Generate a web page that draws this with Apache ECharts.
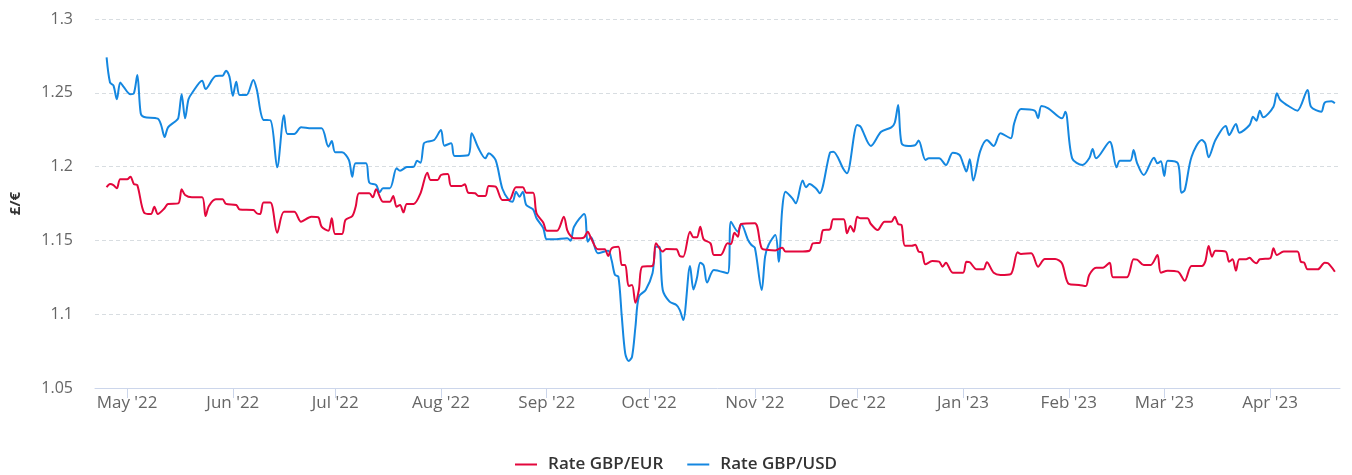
<!DOCTYPE html>
<html>
<head>
<meta charset="utf-8">
<title>GBP exchange rates</title>
<script src="https://cdn.jsdelivr.net/npm/echarts@6/dist/echarts.min.js"></script>
<style>
  html, body { margin: 0; padding: 0; background: #ffffff; }
  #chart { width: 1352px; height: 475px; }
</style>
</head>
<body>
<div id="chart"></div>
<script>
// Daily closing rates, as [days since 1 May 2022, rate]
const gbpEur = [
  [-6,1.186],[-5,1.1882],[-4,1.1875],[-3,1.1853],[-2,1.1914],[0,1.1914],[1,1.1932],[2,1.1882],[3,1.1875],
  [5,1.1688],[7,1.1679],[8,1.1728],[9,1.1679],[11,1.1718],[12,1.1747],[15,1.1751],[16,1.1846],[17,1.1808],
  [19,1.1792],[22,1.1792],[23,1.1665],[24,1.1733],[26,1.1778],[28,1.1778],[29,1.1747],[32,1.174],[33,1.171],
  [37,1.1706],[38,1.1684],[39,1.1679],[40,1.1756],[42,1.1756],[44,1.1552],[46,1.1694],[49,1.1694],[51,1.1627],
  [54,1.166],[56,1.1657],[57,1.1593],[59,1.1566],[60,1.165],[61,1.1543],[63,1.1543],[64,1.1638],[66,1.1665],
  [67,1.1728],[68,1.1819],[71,1.1819],[72,1.1792],[73,1.1846],[75,1.1762],[77,1.1762],[78,1.1801],[79,1.1728],
  [80,1.174],[81,1.169],[82,1.1747],[84,1.1747],[86,1.1819],[88,1.1959],[89,1.1909],[91,1.1909],[92,1.1943],
  [94,1.195],[95,1.1869],[98,1.1869],[99,1.188],[100,1.1823],[102,1.1819],[103,1.1801],[105,1.1801],[106,1.1869],
  [108,1.1864],[110,1.1774],[112,1.1774],[114,1.186],[116,1.186],[117,1.1823],[119,1.1823],[120,1.1684],
  [122,1.162],[123,1.1566],[126,1.1566],[128,1.166],[129,1.157],[130,1.153],[131,1.1514],[133,1.1514],
  [134,1.1521],[135,1.1559],[136,1.1514],[138,1.144],[140,1.144],[141,1.1394],[142,1.1446],[144,1.1457],
  [145,1.1333],[146,1.1333],[147,1.1191],[148,1.1198],[149,1.1078],[150,1.1164],[151,1.1322],[154,1.1327],
  [155,1.148],[157,1.1424],[158,1.1442],[161,1.144],[162,1.1394],[163,1.139],[165,1.1559],[166,1.1521],
  [167,1.1521],[168,1.1593],[169,1.1507],[171,1.148],[172,1.1401],[174,1.1401],[176,1.148],[177,1.1475],
  [178,1.1552],[179,1.1525],[180,1.1611],[184,1.1616],[186,1.1447],[188,1.1435],[190,1.1432],[192,1.1451],
  [193,1.1424],[197,1.1424],[200,1.143],[201,1.148],[203,1.1484],[204,1.157],[206,1.1575],[207,1.1643],
  [210,1.1643],[211,1.1548],[212,1.1598],[213,1.1559],[214,1.166],[215,1.165],[217,1.165],[218,1.1611],
  [220,1.157],[222,1.1627],[224,1.1627],[225,1.166],[226,1.1611],[227,1.1604],[228,1.1464],[230,1.1464],
  [231,1.147],[232,1.1424],[233,1.1418],[234,1.1338],[236,1.136],[238,1.1356],[239,1.1322],[240,1.1349],
  [242,1.1281],[245,1.1281],[246,1.1356],[247,1.1352],[249,1.1304],[251,1.1304],[252,1.1352],[254,1.1281],
  [256,1.1266],[259,1.1272],[261,1.1419],[262,1.1408],[265,1.1413],[267,1.1322],[269,1.1374],[272,1.1374],
  [274,1.1345],[276,1.1205],[279,1.1198],[281,1.1191],[282,1.1266],[284,1.1315],[286,1.1315],[288,1.1349],
  [289,1.125],[293,1.125],[295,1.1372],[296,1.137],[298,1.1333],[300,1.1333],[302,1.1401],[303,1.1281],
  [305,1.1295],[308,1.1288],[310,1.1227],[312,1.1327],[315,1.1327],[316,1.1356],[317,1.1462],[318,1.139],
  [319,1.143],[322,1.1424],[323,1.1356],[324,1.1372],[325,1.1295],[326,1.1372],[328,1.1372],[329,1.1383],
  [330,1.136],[331,1.1345],[332,1.1372],[335,1.1378],[336,1.1446],[337,1.1401],[339,1.1424],[343,1.1424],
  [344,1.1356],[345,1.135],[346,1.1304],[349,1.1304],[351,1.1349],[352,1.1345],[354,1.1288]
];

const gbpUsd = [
  [-6,1.274],[-5,1.257],[-4,1.255],[-3,1.2456],[-2,1.257],[-1,1.254],[1,1.249],[2,1.2497],[3,1.262],
  [4,1.236],[5,1.2336],[9,1.2325],[10,1.228],[11,1.22],[12,1.2266],[14,1.2304],[15,1.2327],[16,1.249],
  [17,1.2327],[18,1.2456],[19,1.2497],[22,1.2582],[23,1.2526],[26,1.2614],[28,1.2616],[29,1.265],[30,1.261],
  [31,1.248],[32,1.2575],[33,1.2485],[35,1.2485],[37,1.2587],[38,1.2524],[40,1.2316],[42,1.2314],[44,1.1995],
  [46,1.2348],[47,1.2221],[49,1.2221],[51,1.2266],[54,1.2259],[57,1.2259],[59,1.2135],[60,1.2173],[61,1.2097],
  [63,1.2097],[65,1.2045],[66,1.1932],[67,1.2022],[70,1.2022],[71,1.1891],[73,1.1875],[74,1.1826],[75,1.1853],
  [77,1.1853],[79,1.1988],[80,1.1972],[82,1.1997],[84,1.1999],[85,1.204],[86,1.2026],[87,1.2158],[88,1.2169],
  [90,1.218],[92,1.2248],[93,1.2142],[95,1.2158],[96,1.2072],[100,1.2077],[101,1.2226],[103,1.2124],
  [105,1.2056],[106,1.209],[108,1.2045],[110,1.185],[112,1.1769],[113,1.1762],[114,1.183],[115,1.1796],
  [116,1.183],[117,1.174],[119,1.171],[120,1.165],[122,1.1582],[123,1.1507],[125,1.1507],[129,1.1514],
  [130,1.1498],[131,1.1593],[134,1.1679],[135,1.1491],[136,1.1521],[138,1.1413],[141,1.143],[142,1.1367],
  [143,1.1266],[144,1.1254],[145,1.0983],[146,1.0735],[147,1.0683],[148,1.0712],[149,1.0915],[150,1.1119],
  [152,1.1164],[154,1.1277],[155,1.1457],[156,1.1457],[157,1.1164],[159,1.1085],[161,1.1062],[162,1.1028],
  [163,1.0961],[165,1.1327],[166,1.1167],[167,1.1243],[168,1.1349],[169,1.133],[170,1.1214],[172,1.13],
  [176,1.1277],[177,1.1627],[179,1.1559],[180,1.1611],[182,1.1503],[183,1.1469],[184,1.145],[186,1.1164],
  [187,1.139],[188,1.1469],[190,1.1537],[191,1.1356],[192,1.1706],[193,1.183],[195,1.1785],[196,1.1751],
  [198,1.1905],[199,1.186],[200,1.1882],[202,1.185],[203,1.1819],[206,1.2094],[207,1.2101],[210,1.1982],
  [211,1.1955],[214,1.2282],[215,1.227],[218,1.214],[221,1.2236],[224,1.2266],[225,1.2297],[226,1.2417],
  [227,1.2158],[229,1.214],[231,1.2146],[232,1.2176],[234,1.2045],[235,1.2056],[238,1.2056],[240,1.2011],
  [242,1.2094],[244,1.2079],[245,1.2022],[246,1.1966],[247,1.205],[248,1.1905],[250,1.2101],[252,1.218],
  [254,1.214],[256,1.2226],[259,1.2192],[260,1.2293],[262,1.239],[266,1.2379],[267,1.2327],[268,1.2411],
  [270,1.2395],[274,1.2327],[275,1.2372],[277,1.2056],[280,1.2011],[282,1.2056],[283,1.2119],[284,1.2056],
  [288,1.2169],[290,1.1995],[291,1.204],[294,1.204],[295,1.2112],[296,1.2026],[298,1.1943],[301,1.206],
  [302,1.2022],[303,1.2036],[304,1.1936],[305,1.204],[308,1.2022],[309,1.1823],[310,1.1841],[312,1.2067],
  [315,1.218],[316,1.2158],[317,1.2063],[319,1.218],[322,1.2275],[323,1.2214],[325,1.2289],[326,1.223],
  [329,1.2282],[330,1.2338],[331,1.2311],[332,1.2379],[333,1.2334],[336,1.2406],[337,1.2497],[338,1.2451],
  [341,1.2402],[343,1.2379],[346,1.2519],[347,1.2406],[350,1.2372],[351,1.2433],[353,1.2442],[354,1.2429]
];

const monthNames = ['Jan','Feb','Mar','Apr','May','Jun','Jul','Aug','Sep','Oct','Nov','Dec'];
const seriesNames = ['Rate GBP/EUR', 'Rate GBP/USD'];
const yTicks = { min: 1.05, max: 1.3, step: 0.05 };

const DAY = 86400000;
const epoch = new Date(2022, 4, 1).getTime();
const toTime = d => epoch + d * DAY;
const asSeries = pts => pts.map(([d, v]) => [toTime(d), v]);

const chart = echarts.init(document.getElementById('chart'), null, { renderer: 'canvas' });

const font = 'Open Sans, Noto Sans, sans-serif';

chart.setOption({
  animation: false,
  backgroundColor: '#ffffff',
  grid: { left: 95, right: 12, top: 19, bottom: 87, containLabel: false },
  legend: {
    data: seriesNames,
    left: 'center',
    top: 451,
    icon: 'rect',
    itemWidth: 22,
    itemHeight: 2,
    itemGap: 24,
    textStyle: { fontFamily: font, fontSize: 17, fontWeight: 600, color: '#333333', padding: [0, 0, 0, 6] }
  },
  xAxis: {
    type: 'time',
    min: toTime(-9.4),
    max: toTime(355.5),
    minInterval: 28 * DAY,
    maxInterval: 31 * DAY,
    axisLine: { show: true, lineStyle: { color: '#ccd6eb', width: 1 } },
    axisTick: { show: true, length: 10, lineStyle: { color: '#ccd6eb' } },
    splitLine: { show: false },
    axisLabel: {
      fontFamily: font,
      fontSize: 17,
      color: '#666666',
      margin: 7,
      hideOverlap: false,
      formatter: v => {
        const d = new Date(v);
        return monthNames[d.getMonth()] + " '" + String(d.getFullYear()).slice(2);
      }
    }
  },
  yAxis: {
    type: 'value',
    min: yTicks.min,
    max: yTicks.max,
    interval: yTicks.step,
    name: '£/€',
    nameLocation: 'middle',
    nameGap: 72,
    nameRotate: 90,
    nameTextStyle: { fontFamily: font, fontSize: 15, fontWeight: 'bold', color: '#333333' },
    axisLine: { show: false },
    axisTick: { show: false },
    axisLabel: { fontFamily: font, fontSize: 16, color: '#666666', margin: 22 },
    splitLine: { show: true, lineStyle: { color: '#d8dde1', type: [4, 3], width: 1 } }
  },
  series: [
    {
      name: seriesNames[0],
      type: 'line',
      data: asSeries(gbpEur),
      smooth: 0.3,
      showSymbol: false,
      lineStyle: { color: '#e3073c', width: 2 },
      itemStyle: { color: '#e3073c' },
      z: 3
    },
    {
      name: seriesNames[1],
      type: 'line',
      data: asSeries(gbpUsd),
      smooth: 0.3,
      showSymbol: false,
      lineStyle: { color: '#1487e0', width: 2 },
      itemStyle: { color: '#1487e0' },
      z: 2
    }
  ]
});
</script>
</body>
</html>
